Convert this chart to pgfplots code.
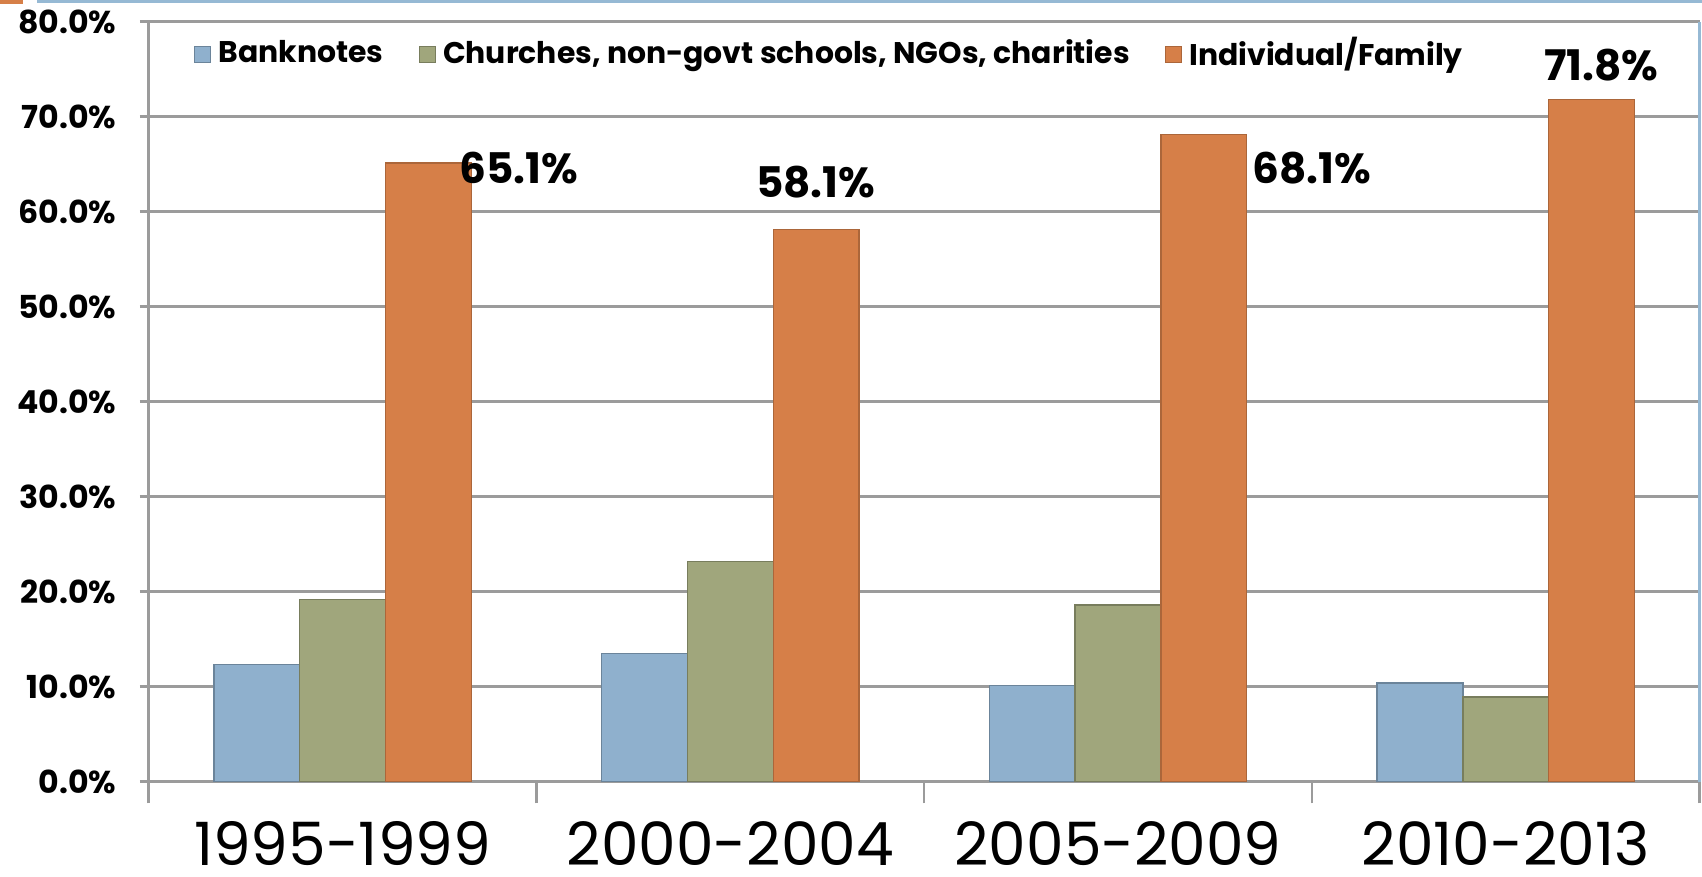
\documentclass[border=0pt]{standalone}
\usepackage{pgfplots}
\pgfplotsset{compat=1.18}
\usepackage{fontspec}
\setmainfont{Poppins}

\definecolor{cBlue}{RGB}{143,176,205}
\definecolor{cGreen}{RGB}{160,166,124}
\definecolor{cOrange}{RGB}{214,127,72}
\definecolor{gridc}{RGB}{155,155,155}
\definecolor{frameblue}{RGB}{150,185,212}

\begin{document}
\begin{tikzpicture}
\useasboundingbox (-1.487,-0.954) rectangle (15.533,7.816);
% slide decoration
\fill[cOrange] (-1.487,7.816) rectangle (-1.26,7.78);
\fill[frameblue] (-1.12,7.816) rectangle (15.533,7.786);
\begin{axis}[
  at={(0,0)}, anchor=south west,
  width=15.51cm, height=7.6cm, scale only axis,
  ybar=0pt, bar width=0.858cm,
  ymin=0, ymax=80, xmin=-0.5, xmax=3.5,
  axis x line*=bottom, axis y line*=left,
  axis line style={gridc, line width=0.7pt},
  ymajorgrids, grid style={gridc, line width=0.7pt},
  tick align=outside, major tick length=2.5pt, minor tick length=6.2pt,
  tick style={gridc, line width=0.7pt},
  ytick={0,10,...,80},
  /pgf/number format/assume math mode=true,
  yticklabel={\pgfmathprintnumber[fixed,fixed zerofill,precision=1]{\tick}\%},
  yticklabel style={font=\bfseries\fontsize{9}{10}\selectfont, anchor=east, inner sep=0pt, xshift=-6.5pt},
  xtick={0,1,2,3},
  xticklabels={1995-1999,2000-2004,2005-2009,2010-2013},
  major x tick style={draw=none},
  minor xtick={-0.5,0.5,1.5,2.5,3.5},
  xticklabel style={font=\fontsize{17}{20}\selectfont, anchor=base, inner sep=0pt, text depth=0pt, yshift=-21.5pt},
  legend style={draw=none, fill=none, at={(0.022,0.957)}, anchor=west,
    legend columns=-1, font=\bfseries\fontsize{8.5}{10}\selectfont,
    /tikz/every even column/.append style={column sep=8pt},
    legend cell align=left},
  legend image code/.code={\draw[#1] (0cm,-0.08cm) rectangle (0.16cm,0.08cm);},
  clip=false,
]
\addplot[fill=cBlue, draw=cBlue!75!black, line width=0.4pt] coordinates {(0,12.3) (1,13.5) (2,10.1) (3,10.4)};
\addplot[fill=cGreen, draw=cGreen!75!black, line width=0.4pt] coordinates {(0,19.2) (1,23.2) (2,18.6) (3,8.9)};
\addplot[fill=cOrange, draw=cOrange!80!black, line width=0.4pt] coordinates {(0,65.1) (1,58.1) (2,68.1) (3,71.8)};
\legend{Banknotes, {Churches, non-govt schools, NGOs, charities}, Individual/Family}
\draw[frameblue, line width=0.8pt] (rel axis cs:1,0) -- (rel axis cs:1,1);
\node[anchor=west, inner sep=0pt, font=\bfseries\fontsize{12}{14}\selectfont] at (axis cs:0.30,64.6) {65.1\%};
\node[inner sep=0pt, font=\bfseries\fontsize{12}{14}\selectfont] at (axis cs:1.22,63.1) {58.1\%};
\node[inner sep=0pt, font=\bfseries\fontsize{12}{14}\selectfont] at (axis cs:2.50,64.6) {68.1\%};
\node[inner sep=0pt, font=\bfseries\fontsize{12}{14}\selectfont] at (axis cs:3.246,75.4) {71.8\%};
\end{axis}
\end{tikzpicture}
\end{document}
